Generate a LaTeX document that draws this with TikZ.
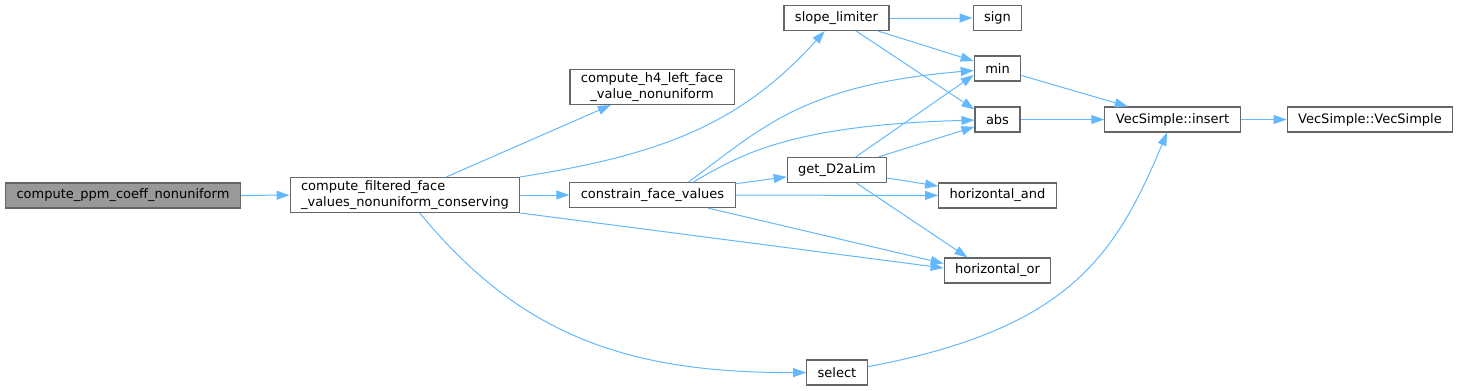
\documentclass[tikz,border=0pt]{standalone}
\usepackage{fontspec}
\setmainfont{DejaVu Sans}
\usetikzlibrary{arrows.meta}
\definecolor{edgeblue}{HTML}{63B8FF}
\definecolor{boxline}{HTML}{666666}
\definecolor{rootgray}{HTML}{999999}

\begin{document}
\begin{tikzpicture}[x=1pt, y=-1pt, every node/.style={font=\fontsize{13}{16}\selectfont}, fn/.style={draw=boxline,fill=white,line width=1.1pt,inner xsep=11pt,inner ysep=3pt,minimum height=25pt}, root/.style={fn,fill=rootgray}, arr/.style={-{Triangle[length=13pt,width=9pt]},edgeblue,line width=1pt}]
\useasboundingbox (0,0) rectangle (1460,391);
\node[root] (ppm) at (123,195.5) {compute\_ppm\_coeff\_nonuniform};
\node[fn,align=left] (filt) at (405,195) {compute\_filtered\_face\\\_values\_nonuniform\_conserving};
\node[fn,align=center] (h4) at (652,87) {compute\_h4\_left\_face\\\_value\_nonuniform};
\node[fn] (cfv) at (652.5,195) {constrain\_face\_values};
\node[fn] (slope) at (836.5,18) {slope\_limiter};
\node[fn] (d2a) at (837,170) {get\_D2aLim};
\node[fn] (sel) at (837,372.5) {select};
\node[fn] (sign) at (997.5,18) {sign};
\node[fn] (min) at (997.5,68.5) {min};
\node[fn] (abs) at (997.5,119.5) {abs};
\node[fn] (hand) at (997.5,195.5) {horizontal\_and};
\node[fn] (hor) at (997.5,270.5) {horizontal\_or};
\node[fn] (ins) at (1172.5,119.5) {VecSimple::insert};
\node[fn] (vec) at (1370,119.5) {VecSimple::VecSimple};
% calls of compute_filtered_face_values_nonuniform_conserving
\draw[arr] (ppm) -- (filt);
\draw[arr] (filt) -- (h4);
\draw[arr] (filt) .. controls (660,155) and (740,125) .. (slope);
\draw[arr] (filt) -- (cfv);
\draw[arr] (filt.south east) -- ([yshift=2.5pt]hor.west);
\draw[arr] (filt) .. controls (520,335) and (626,373) .. (sel);
% calls of constrain_face_values
\draw[arr] (cfv) -- (d2a);
\draw[arr] ([xshift=36pt]cfv.north) .. controls (760,130) and (800,85) .. (min);
\draw[arr] ([xshift=41pt]cfv.north) .. controls (740,155) and (790,125) .. (abs);
\draw[arr] (cfv) -- (hand);
\draw[arr] (cfv) -- ([yshift=7pt]hor.west);
% slope_limiter and get_D2aLim
\draw[arr] (slope) -- (sign);
\draw[arr] (slope) -- (min);
\draw[arr] (slope) -- ([yshift=-3pt]abs.north west);
\draw[arr] (d2a) -- ([yshift=-6.5pt]min.west);
\draw[arr] (d2a) -- (abs);
\draw[arr] (d2a) -- (hand);
\draw[arr] (d2a) -- ([xshift=-30pt]hor.north);
% VecSimple
\draw[arr] (min) -- (ins);
\draw[arr] (abs) -- (ins);
\draw[arr] (ins) -- (vec);
\draw[arr] (sel) .. controls (1068,329) and (1115,257) .. (ins);
\end{tikzpicture}
\end{document}
